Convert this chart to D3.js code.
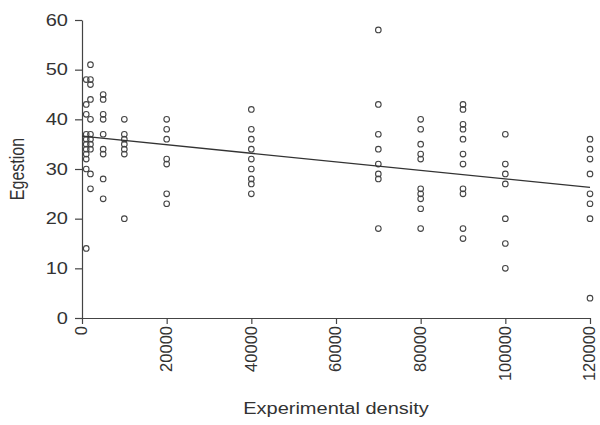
<!DOCTYPE html>
<html>
<head>
<meta charset="utf-8">
<script src="https://cdn.jsdelivr.net/npm/d3@7"></script>
<style>
  body { margin: 0; background: #fff; }
  svg text { font-family: "Liberation Sans", Arial, Helvetica, sans-serif; fill: #333; }
</style>
</head>
<body>
<svg id="chart"></svg>
<script>
// Experimental densities (x) and the egestion values read at each one
const densities = [1000, 2000, 5000, 10000, 20000, 40000, 70000, 80000, 90000, 100000, 120000];
const egestion1000 = [48, 43, 41, 37, 36, 35, 34, 33, 32, 30, 14];
const egestion2000 = [51, 48, 47, 44, 40, 37, 36, 35, 34, 29, 26];
const egestion5000 = [45, 44, 41, 40, 37, 34, 33, 28, 24];
const egestion10000 = [40, 37, 36, 35, 34, 33, 20];
const egestion20000 = [40, 38, 36, 32, 31, 25, 23];
const egestion40000 = [42, 38, 36, 34, 32, 30, 28, 27, 25];
const egestion70000 = [58, 43, 37, 34, 31, 29, 28, 18];
const egestion80000 = [40, 38, 35, 33, 32, 26, 25, 24, 22, 18];
const egestion90000 = [43, 42, 39, 38, 36, 33, 31, 26, 25, 18, 16];
const egestion100000 = [37, 31, 29, 27, 20, 15, 10];
const egestion120000 = [36, 34, 32, 29, 25, 23, 20, 4];
const egestionGroups = [egestion1000, egestion2000, egestion5000, egestion10000, egestion20000,
  egestion40000, egestion70000, egestion80000, egestion90000, egestion100000, egestion120000];

// fitted line as drawn
const fitIntercept = 36.6;
const fitSlope = -0.0000858;

const xTicks = [0, 20000, 40000, 60000, 80000, 100000, 120000];
const yTicks = [0, 10, 20, 30, 40, 50, 60];

const width = 600, height = 425;
const margin = { top: 20, right: 10, bottom: 107, left: 82 };
const stretch = 1.25; // the scanned figure's lettering is a bit wide

const svg = d3.select("#chart").attr("width", width).attr("height", height);

const x = d3.scaleLinear().domain([0, 120000]).range([margin.left, width - margin.right]);
const y = d3.scaleLinear().domain([0, 60]).range([height - margin.bottom, margin.top]);

// flatten points
const points = [];
densities.forEach((d, i) => {
  egestionGroups[i].forEach(v => points.push({ x: d, y: v }));
});

// axes
const xAxis = svg.append("g")
  .attr("transform", `translate(0,${height - margin.bottom})`)
  .call(d3.axisBottom(x).tickValues(xTicks).tickFormat(d3.format("d")).tickSize(6).tickSizeOuter(0));
xAxis.selectAll("text")
  .attr("transform", "translate(0,8) rotate(-90)")
  .attr("text-anchor", "end")
  .attr("x", 0)
  .attr("y", 0)
  .attr("dy", "0.3em")
  .style("font-size", "16.5px");

const yAxis = svg.append("g")
  .attr("transform", `translate(${margin.left},0)`)
  .call(d3.axisLeft(y).tickValues(yTicks).tickSize(7).tickSizeOuter(0));
yAxis.selectAll("text")
  .attr("x", 0)
  .attr("transform", `translate(-14,0) scale(${stretch},1)`)
  .style("font-size", "16px");

svg.selectAll(".domain, .tick line").attr("stroke", "#444").attr("stroke-width", 1.2);

// points
svg.append("g")
  .selectAll("circle")
  .data(points)
  .join("circle")
  .attr("cx", d => x(d.x))
  .attr("cy", d => y(d.y))
  .attr("r", 2.8)
  .attr("fill", "none")
  .attr("stroke", "#444")
  .attr("stroke-width", 1.1);

// fitted line
svg.append("line")
  .attr("x1", x(0)).attr("y1", y(fitIntercept))
  .attr("x2", x(120000)).attr("y2", y(fitIntercept + fitSlope * 120000))
  .attr("stroke", "#333")
  .attr("stroke-width", 1.3);

// axis titles
svg.append("text")
  .attr("transform", `translate(${(margin.left + width - margin.right) / 2},414) scale(${stretch},1)`)
  .attr("text-anchor", "middle")
  .style("font-size", "16px")
  .text("Experimental density");

svg.append("text")
  .attr("transform", `translate(24,${(margin.top + height - margin.bottom) / 2}) scale(${stretch},1) rotate(-90)`)
  .attr("text-anchor", "middle")
  .style("font-size", "16px")
  .text("Egestion");
</script>
</body>
</html>
